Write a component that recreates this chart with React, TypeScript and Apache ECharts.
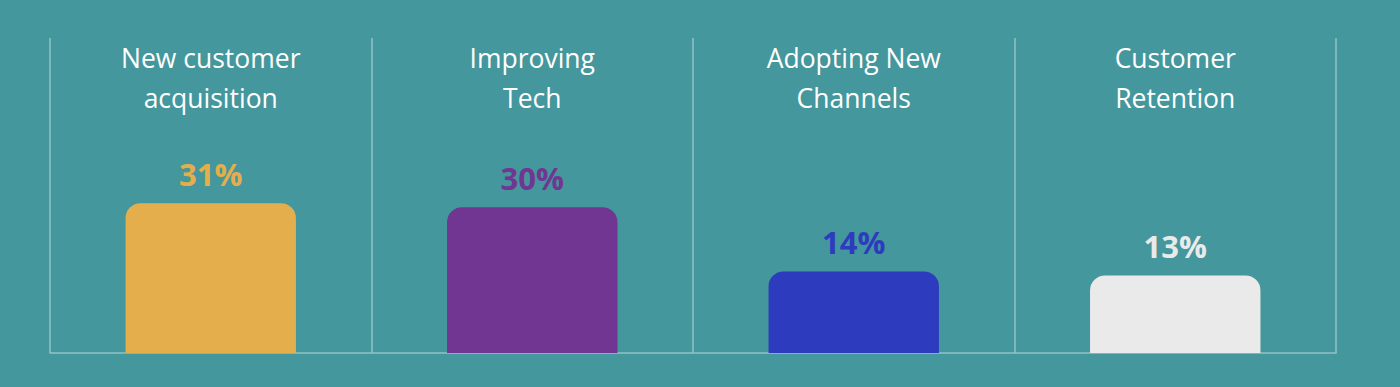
import React, { useEffect, useRef } from "react";
import * as echarts from "echarts";

const categories = ["New customer\nacquisition", "Improving\nTech", "Adopting New\nChannels", "Customer\nRetention"];
const values = [31, 30, 14, 13];
const barColors = ["#E5AE4C", "#713592", "#2D3BBE", "#EAEAEA"];
const axisMin = -6.3;
const axisMax = 72.1;

export default function App() {
  const ref = useRef<HTMLDivElement>(null);
  useEffect(() => {
    const chart = echarts.init(ref.current!, null, { renderer: "svg" });
    chart.setOption({
      animation: false,
      backgroundColor: "#44979C",
      textStyle: { fontFamily: "Open Sans" },
      grid: { left: 50, right: 64, top: 38, bottom: 34 },
      xAxis: [
        {
          type: "category",
          data: categories,
          position: "bottom",
          axisLine: { show: true, onZero: false, lineStyle: { color: "#8FC3C5", width: 1.5 } },
          axisTick: { show: false },
          axisLabel: { show: false },
          splitLine: { show: true, interval: 0, lineStyle: { color: "#8FC3C5", width: 1.5 } },
        },
        {
          type: "category",
          data: categories,
          position: "top",
          axisLine: { show: false, onZero: false },
          axisTick: { show: false },
          splitLine: { show: false },
          axisLabel: {
            show: true,
            interval: 0,
            color: "#FFFFFF",
            fontFamily: "Open Sans",
            fontSize: 26.5,
            lineHeight: 40,
            verticalAlign: "top",
            margin: 0,
          },
        },
      ],
      yAxis: {
        type: "value",
        min: axisMin,
        max: axisMax,
        show: false,
        splitLine: { show: false },
      },
      series: [
        {
          type: "custom",
          xAxisIndex: 0,
          encode: { x: 0, y: 1 },
          data: values.map((v, i) => [i, v]),
          renderItem: (params: any, api: any) => {
            const idx = api.value(0);
            const val = api.value(1);
            const color = barColors[params.dataIndex];
            const top = api.coord([idx, val]);
            const bottom = api.coord([idx, axisMin]);
            const w = api.size([1, 0])[0] * 0.53;
            return {
              type: "group",
              children: [
                {
                  type: "rect",
                  shape: { x: top[0] - w / 2, y: top[1], width: w, height: bottom[1] - top[1], r: [15, 15, 0, 0] },
                  style: { fill: color },
                },
                {
                  type: "text",
                  x: top[0],
                  y: top[1] - 14,
                  style: {
                    text: val + "%",
                    fill: color,
                    fontFamily: "Open Sans",
                    fontWeight: "bold",
                    fontSize: 31,
                    align: "center",
                    verticalAlign: "bottom",
                  },
                },
              ],
            };
          },
        },
      ],
    });
    return () => chart.dispose();
  }, []);
  return <div ref={ref} style={{ width: 1400, height: 387, position: "absolute", left: 0, top: 0 }} />;
}
